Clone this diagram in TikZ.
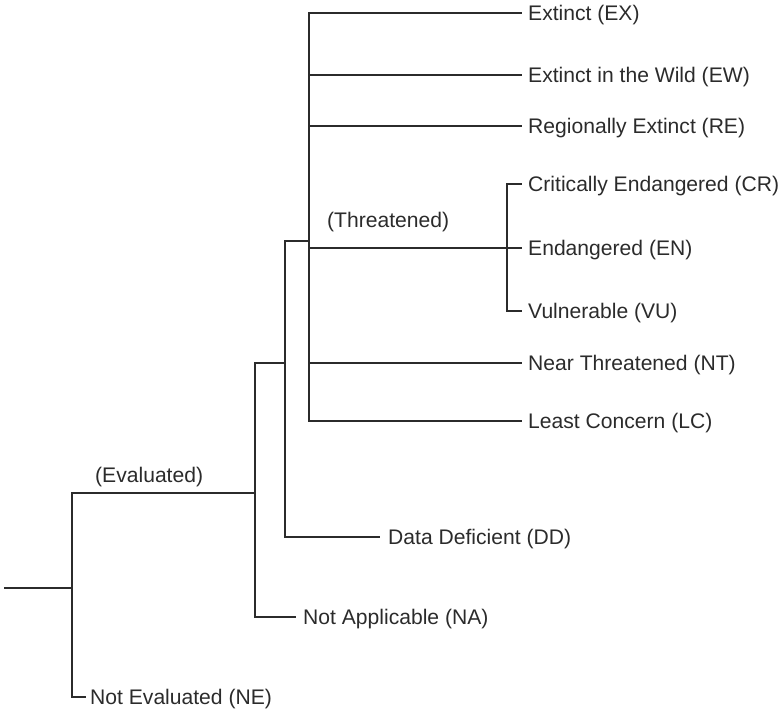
\documentclass[tikz,border=0pt]{standalone}
\usepackage{fontspec}
\setmainfont{Liberation Sans}
\definecolor{ink}{HTML}{2B2B2B}
\newcommand{\lab}{\fontsize{21.1}{25}\selectfont}
\begin{document}
\begin{tikzpicture}[x=1pt,y=-1pt,
  branch/.style={draw=ink, line width=1.1pt, line cap=rect},
  leaf/.style={anchor=base west, inner ysep=0pt, inner xsep=6.5pt, font=\lab, text=ink},
  group/.style={anchor=base west, inner sep=0pt, font=\lab, text=ink}]
\useasboundingbox (0,0) rectangle (783,715);

% junction points of the tree
\coordinate (root) at (5,588);
\coordinate (n0)   at (72,588);
\coordinate (n0t)  at (72,493);
\coordinate (n0b)  at (72,697);
\coordinate (n1)   at (255,493);
\coordinate (n1t)  at (255,363);
\coordinate (n1b)  at (255,617);
\coordinate (n2)   at (285,363);
\coordinate (n2t)  at (285,241);
\coordinate (n2b)  at (285,537);
\coordinate (n3)   at (309,241);
\coordinate (n3t)  at (309,13);
\coordinate (n3b)  at (309,421);
\coordinate (rEW)  at (309,75);
\coordinate (rRE)  at (309,126);
\coordinate (rTH)  at (309,248);
\coordinate (rNT)  at (309,363);
\coordinate (n4)   at (507,248);
\coordinate (n4t)  at (507,184);
\coordinate (n4b)  at (507,311);

% category labels
\node[leaf] (ex) at (521.5,20.5)  {Extinct (EX)};
\node[leaf] (ew) at (521.5,82.5)  {Extinct in the Wild (EW)};
\node[leaf] (re) at (521.5,133.5) {Regionally Extinct (RE)};
\node[leaf] (cr) at (521.5,191.5) {Critically Endangered (CR)};
\node[leaf] (en) at (521.5,255.5) {Endangered (EN)};
\node[leaf] (vu) at (521.5,318.5) {Vulnerable (VU)};
\node[leaf] (nt) at (521.5,370.5) {Near Threatened (NT)};
\node[leaf] (lc) at (521.5,428.5) {Least Concern (LC)};
\node[leaf, inner xsep=9pt] (dd) at (379,544.5) {Data Deficient (DD)};
\node[leaf, inner xsep=8pt] (na) at (295,624.5) {Not Applicable (NA)};
\node[leaf, inner xsep=5pt] (ne) at (85,704.5)  {Not Evaluated (NE)};

% group labels
\node[group] (thr) at (327,227.5) {(Threatened)};
\node[group] (evl) at (95,482.5)  {(Evaluated)};

% root and first split
\draw[branch] (root) -- (n0);
\draw[branch] (n0t) -- (n0b);
\draw[branch] (n0b) -- (n0b -| ne.west);
\draw[branch] (n0t) -- (n1);

% evaluated
\draw[branch] (n1t) -- (n1b);
\draw[branch] (n1b) -- (n1b -| na.west);
\draw[branch] (n1t) -- (n2);

% adequate data
\draw[branch] (n2t) -- (n2b);
\draw[branch] (n2b) -- (n2b -| dd.west);
\draw[branch] (n2t) -- (n3);

% status categories
\draw[branch] (n3t) -- (n3b);
\draw[branch] (n3t) -- (n3t -| ex.west);
\draw[branch] (rEW) -- (rEW -| ew.west);
\draw[branch] (rRE) -- (rRE -| re.west);
\draw[branch] (rNT) -- (rNT -| nt.west);
\draw[branch] (n3b) -- (n3b -| lc.west);
\draw[branch] (rTH) -- (n4);

% threatened
\draw[branch] (n4t) -- (n4b);
\draw[branch] (n4t) -- (n4t -| cr.west);
\draw[branch] (n4)  -- (n4 -| en.west);
\draw[branch] (n4b) -- (n4b -| vu.west);
\end{tikzpicture}
\end{document}
